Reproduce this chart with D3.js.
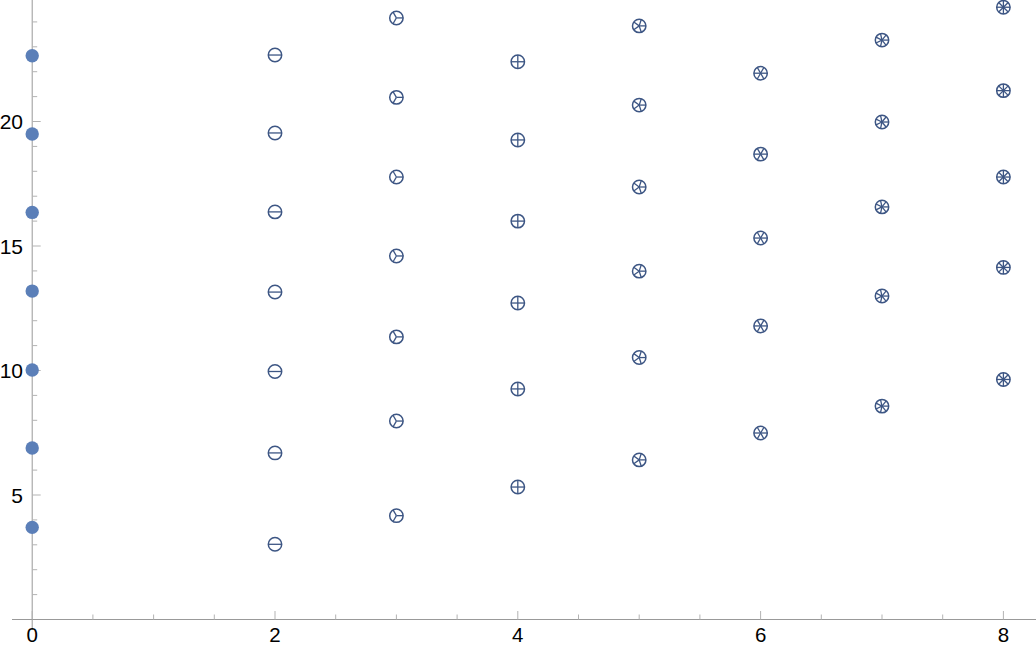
<!DOCTYPE html>
<html>
<head>
<meta charset="utf-8">
<script src="https://cdn.jsdelivr.net/npm/d3@7"></script>
<style>
  html, body { margin: 0; padding: 0; background: #fff; }
  svg { display: block; }
  text { font-family: "Liberation Sans", Arial, sans-serif; }
</style>
</head>
<body>
<svg id="chart" width="1036" height="647"></svg>
<script>
// Data: x position (also number of spokes in the marker) and y values
const xs = [0, 2, 3, 4, 5, 6, 7, 8];
const ys0 = [3.70, 6.89, 10.02, 13.19, 16.35, 19.50, 22.64];
const ys2 = [3.02, 6.69, 9.96, 13.15, 16.37, 19.54, 22.67];
const ys3 = [4.17, 7.97, 11.35, 14.60, 17.77, 20.97, 24.16];
const ys4 = [5.32, 9.26, 12.71, 16.00, 19.26, 22.40];
const ys5 = [6.41, 10.52, 13.99, 17.37, 20.66, 23.84];
const ys6 = [7.49, 11.79, 15.32, 18.69, 21.94];
const ys7 = [8.57, 12.99, 16.57, 19.98, 23.27];
const ys8 = [9.64, 14.14, 17.77, 21.24, 24.59];
const seriesY = [ys0, ys2, ys3, ys4, ys5, ys6, ys7, ys8];
const xTickLabels = [0, 2, 4, 6, 8];
const yTickLabels = [5, 10, 15, 20];

const svg = d3.select("#chart");
const x = d3.scaleLinear().domain([0, 8]).range([32.2, 1003.4]);
const y = d3.scaleLinear().domain([0, 24.88]).range([619.5, 0]);

const axisColor = "#999999";
const tickColor = "#b3b3b3";

// X axis line
svg.append("line").attr("x1", 12).attr("x2", 1036)
  .attr("y1", y(0)).attr("y2", y(0))
  .attr("stroke", axisColor).attr("stroke-width", 1);
// Y axis line
svg.append("line").attr("x1", x(0)).attr("x2", x(0))
  .attr("y1", 0).attr("y2", 630)
  .attr("stroke", axisColor).attr("stroke-width", 1);

// X ticks
const xMinor = d3.range(0, 8.01, 0.5).filter(v => v % 2 !== 0);
svg.selectAll(".xminor").data(xMinor).enter().append("line")
  .attr("x1", d => x(d)).attr("x2", d => x(d))
  .attr("y1", y(0)).attr("y2", y(0) - 5)
  .attr("stroke", tickColor);
svg.selectAll(".xmajor").data(xTickLabels).enter().append("line")
  .attr("x1", d => x(d)).attr("x2", d => x(d))
  .attr("y1", y(0)).attr("y2", y(0) - 8.5)
  .attr("stroke", tickColor);
svg.selectAll(".xlab").data(xTickLabels).enter().append("text")
  .attr("x", d => x(d)).attr("y", 642)
  .attr("text-anchor", "middle").attr("font-size", 20.5).attr("fill", "#000")
  .text(d => d);

// Y ticks
const yMinor = d3.range(1, 25, 1).filter(v => v % 5 !== 0);
svg.selectAll(".yminor").data(yMinor).enter().append("line")
  .attr("x1", x(0)).attr("x2", x(0) + 5)
  .attr("y1", d => y(d)).attr("y2", d => y(d))
  .attr("stroke", tickColor);
svg.selectAll(".ymajor").data(yTickLabels).enter().append("line")
  .attr("x1", x(0)).attr("x2", x(0) + 8.5)
  .attr("y1", d => y(d)).attr("y2", d => y(d))
  .attr("stroke", tickColor);
svg.selectAll(".ylab").data(yTickLabels).enter().append("text")
  .attr("x", 23).attr("y", d => y(d) + 7.5)
  .attr("text-anchor", "end").attr("font-size", 21).attr("fill", "#000")
  .text(d => d);

// Points
const fillColor = "#5b7fb8";
const markColor = "#3d5684";
const r = 6.7;

xs.forEach((xv, i) => {
  const vals = seriesY[i];
  const g = svg.append("g");
  if (xv === 0) {
    g.selectAll("circle").data(vals).enter().append("circle")
      .attr("cx", x(xv)).attr("cy", d => y(d)).attr("r", r)
      .attr("fill", fillColor);
  } else {
    const n = xv;
    const spokes = d3.range(n).map(k => (k * 2 * Math.PI) / n);
    const m = g.selectAll("g.m").data(vals).enter().append("g")
      .attr("transform", d => `translate(${x(xv)},${y(d)})`);
    m.append("circle").attr("r", r).attr("fill", "none")
      .attr("stroke", markColor).attr("stroke-width", 1.5);
    spokes.forEach(a => {
      m.append("line").attr("x1", 0).attr("y1", 0)
        .attr("x2", r * Math.cos(a)).attr("y2", -r * Math.sin(a))
        .attr("stroke", markColor).attr("stroke-width", 1.3);
    });
  }
});
</script>
</body>
</html>
